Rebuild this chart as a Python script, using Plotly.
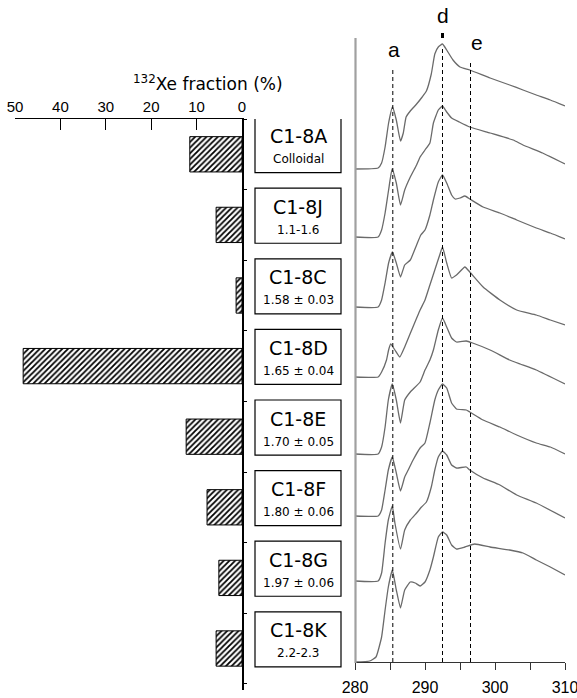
import plotly.graph_objects as go

# ---------------- data ----------------
samples = ["C1-8A", "C1-8J", "C1-8C", "C1-8D", "C1-8E", "C1-8F", "C1-8G", "C1-8K"]
subtitles = ["Colloidal", "1.1-1.6", "1.58 ± 0.03", "1.65 ± 0.04", "1.70 ± 0.05",
             "1.80 ± 0.06", "1.97 ± 0.06", "2.2-2.3"]
xe_fraction = [11.5, 5.7, 1.3, 48.2, 12.3, 7.7, 5.1, 5.7]
bar_ticks = [0, 10, 20, 30, 40, 50]

energy_ticks = [280, 290, 300, 310]

peak_labels = ["a", "d", "e"]
peak_energies = [285.4, 292.5, 296.5]

# vertical offsets of each spectrum (arbitrary units)
offsets = [493, 425, 355, 285, 208, 146, 81, 0]

E_A = [280, 283.3, 283.8, 284.3, 284.8, 285.35, 285.9, 286.5, 286.9, 287.3, 287.9, 288.8, 289.6, 290.2, 290.9, 291.4, 291.9, 292.5, 293.1, 294.0, 295.0, 296.4, 299.3, 302.1, 304.0, 305.9, 307.9, 310]
H_A = [0, 1, 6, 22, 46, 62, 49, 28, 36, 52, 58, 65, 72, 78, 95, 115, 122, 125, 119, 109, 102, 99, 91, 84, 79, 74, 69, 63]

E_J = [280, 283.3, 283.8, 284.3, 284.8, 285.3, 285.9, 286.5, 287.1, 287.9, 288.8, 289.3, 290.0, 290.7, 291.2, 291.9, 292.5, 293.1, 293.8, 294.9, 296.4, 299.3, 302.6, 304.0, 306.8, 310]
H_J = [0, 0, 7, 24, 47, 68, 54, 32, 47, 60, 72, 80, 87, 94, 114, 127, 131, 125, 119, 115, 110, 104, 97, 92, 84, 73]

E_C = [280, 283.3, 283.8, 284.3, 284.8, 285.35, 285.9, 286.5, 287.1, 287.9, 288.8, 289.4, 290.0, 290.7, 291.2, 291.9, 292.5, 293.1, 293.8, 294.3, 295.0, 295.7, 296.4, 298.3, 300.7, 303.1, 305.9, 307.9, 310]
H_C = [0, 0, 7, 24, 44, 55, 44, 30, 42, 47, 62, 72, 77, 92, 107, 125, 132, 124, 112, 108, 109, 111, 108, 100, 94, 87, 79, 74, 68]

E_D = [280, 283.3, 283.8, 284.5, 284.8, 285.1, 285.7, 286.4, 287.1, 288.1, 289.3, 290.0, 290.7, 291.4, 292.1, 292.5, 293.1, 293.8, 294.5, 295.7, 296.4, 298.3, 300.7, 303.1, 305.9, 307.9, 310]
H_D = [0, 0, 5, 17, 27, 33, 27, 20, 30, 47, 67, 77, 92, 107, 122, 130, 114, 99, 102, 110, 105, 90, 77, 67, 62, 57, 52]

E_E = [280, 283.3, 283.8, 284.3, 284.76, 285.33, 285.9, 286.5, 287.1, 287.9, 289.3, 290.0, 290.7, 291.2, 291.9, 292.5, 293.1, 293.8, 294.5, 295.9, 296.8, 299.3, 302.1, 303.6, 305.9, 310]
H_E = [0, 0, 7, 27, 54, 70, 54, 31, 54, 62, 72, 84, 94, 104, 124, 136, 127, 116, 112, 113, 111, 104, 94, 90, 84, 70]

E_F = [280, 283.3, 283.8, 284.3, 284.76, 285.33, 285.9, 286.5, 287.1, 287.6, 288.3, 289.3, 290.0, 290.7, 291.4, 291.9, 292.5, 293.1, 293.8, 294.5, 295.9, 296.4, 298.3, 300.7, 303.1, 305.9, 307.9, 310]
H_F = [0, 0, 6, 26, 46, 59, 43, 25, 39, 46, 56, 68, 73, 93, 116, 126, 132, 128, 113, 107, 106, 104, 96, 89, 81, 73, 69, 62]

E_G = [280, 283.3, 283.8, 284.3, 284.76, 285.33, 285.7, 286.5, 287.1, 287.9, 288.8, 289.5, 290.2, 290.9, 291.4, 291.9, 292.5, 293.1, 293.8, 294.5, 295.9, 296.4, 298.3, 300.7, 303.1, 305.9, 310]
H_G = [0, 0, 8, 38, 61, 75, 58, 32, 51, 61, 68, 74, 79, 94, 111, 124, 130, 126, 116, 113, 114, 111, 103, 96, 86, 78, 63]

E_K = [280, 282.1, 283.0, 283.8, 284.3, 284.76, 285.33, 285.9, 286.5, 287.1, 287.9, 288.6, 289.3, 290.0, 290.7, 291.2, 291.9, 292.5, 293.1, 293.8, 294.5, 295.7, 297.1, 299.3, 302.1, 304.0, 305.9, 307.9, 310]
H_K = [0, 1, 5, 25, 52, 75, 92, 72, 54, 72, 80, 79, 76, 80, 92, 105, 125, 130, 127, 117, 113, 115, 118, 115, 112, 109, 102, 95, 87]

spectra_E = [E_A, E_J, E_C, E_D, E_E, E_F, E_G, E_K]
spectra_H = [H_A, H_J, H_C, H_D, H_E, H_F, H_G, H_K]

# ---------------- figure ----------------
W, H = 577, 698
def px(x):
    return x / W
def py(y):
    return 1 - y / H

fig = go.Figure()

positions = list(range(len(samples)))
fig.add_trace(go.Bar(
    x=xe_fraction, y=positions, orientation="h", width=0.5,
    marker=dict(color="white", line=dict(color="black", width=1),
                pattern=dict(shape="/", fgcolor="black", bgcolor="white",
                             size=4, solidity=0.45, fillmode="replace")),
    xaxis="x", yaxis="y", hoverinfo="x",
))

for e, h, off in zip(spectra_E, spectra_H, offsets):
    fig.add_trace(go.Scatter(
        x=e, y=[off + v for v in h], mode="lines",
        line=dict(color="#6a6a6a", width=1.3, shape="spline", smoothing=0.4),
        xaxis="x2", yaxis="y2", hoverinfo="skip",
    ))

tick_font = dict(family="Liberation Sans, Arial, sans-serif", size=15, color="black")

bar_span = (690 - 119) / 70.6
fig.update_layout(
    width=W, height=H, margin=dict(l=0, r=0, t=0, b=0, autoexpand=False),
    paper_bgcolor="white", plot_bgcolor="white", showlegend=False,
    xaxis=dict(domain=[px(15), px(242)], range=[50, 0], side="top", anchor="y",
               showline=True, linecolor="black", linewidth=1.2,
               ticks="inside", ticklen=11, tickcolor="black", tickwidth=1,
               tickvals=bar_ticks, showgrid=False, zeroline=False, tickfont=tick_font),
    yaxis=dict(domain=[py(690), py(119)], range=[-0.5 + bar_span, -0.5], side="right",
               anchor="x", showline=True, linecolor="black", linewidth=1.6,
               ticks="outside", ticklen=3, tickcolor="black",
               tickvals=[i - 0.5 for i in range(len(samples) + 1)],
               showticklabels=False, showgrid=False, zeroline=False),
    xaxis2=dict(domain=[px(355), px(565)], range=[280, 310], anchor="y2",
                showline=True, linecolor="#333333", linewidth=1,
                ticks="outside", ticklen=7, tickcolor="#333333",
                tickvals=energy_ticks, ticklabelstandoff=4, ticklabeloverflow="allow",
                minor=dict(ticks="outside", ticklen=7, tickcolor="#333333", dtick=5,
                           tick0=280, showgrid=False),
                showgrid=False, zeroline=False, tickfont=dict(tick_font, size=16)),
    yaxis2=dict(domain=[py(662), 1], range=[0, 662], anchor="x2", visible=False),
)

shapes = []
annotations = []

# label boxes
box_shift = -0.13
for i, (name, sub) in enumerate(zip(samples, subtitles)):
    c = i + box_shift
    shapes.append(dict(type="rect", xref="paper", yref="y", x0=px(255), x1=px(341),
                       y0=c - 0.39, y1=c + 0.39, line=dict(color="black", width=1.2),
                       fillcolor="white", layer="above"))
    annotations.append(dict(xref="paper", yref="y", x=px(298), y=c, yshift=9,
                            text=name, showarrow=False,
                            font=dict(family="DejaVu Sans", size=19, color="black")))
    annotations.append(dict(xref="paper", yref="y", x=px(298), y=c, yshift=-14,
                            text=sub, showarrow=False,
                            font=dict(family="DejaVu Sans", size=12, color="black")))

# gray left axis of spectra
shapes.append(dict(type="line", xref="paper", yref="paper", x0=px(355.5), x1=px(355.5),
                   y0=py(663), y1=py(38), line=dict(color="#a0a0a0", width=2.2)))

# dashed peak lines
line_tops = [68, 47, 60]
for e, top in zip(peak_energies, line_tops):
    shapes.append(dict(type="line", xref="x2", yref="y2", x0=e, x1=e, y0=0, y1=662 - top,
                       line=dict(color="black", width=1, dash="4px,3px")))
shapes.append(dict(type="line", xref="x2", yref="y2", x0=peak_energies[1], x1=peak_energies[1],
                   y0=662 - 38, y1=662 - 33, line=dict(color="black", width=3)))

label_pos = [(285.6, 49), (292.6, 15), (297.4, 42)]
for lab, (e, yy) in zip(peak_labels, label_pos):
    annotations.append(dict(xref="x2", yref="y2", x=e, y=662 - yy, text=lab, showarrow=False,
                            font=dict(family="Liberation Sans, Arial", size=21, color="black")))

annotations.append(dict(xref="paper", yref="paper", x=px(131), y=py(70),
                        text="<sup>132</sup>Xe fraction (%)", showarrow=False,
                        font=dict(family="DejaVu Sans", size=17, color="black")))

fig.update_layout(shapes=shapes, annotations=annotations)
fig.write_html("out.html", config={"displayModeBar": False},
               post_script="document.body.style.margin='0';document.body.style.overflow='hidden';")
